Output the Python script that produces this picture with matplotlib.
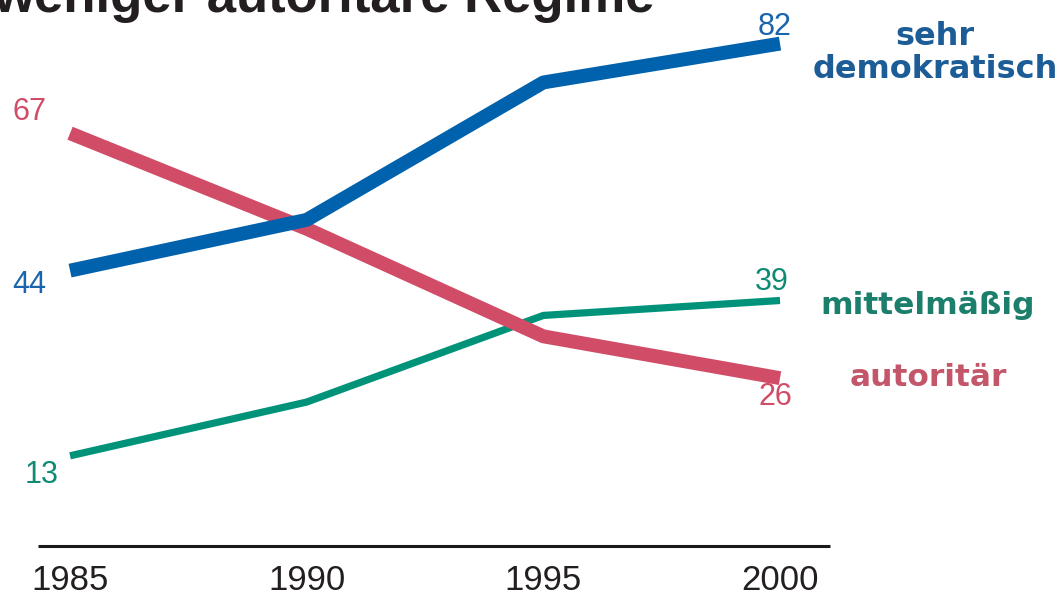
import matplotlib
matplotlib.use("Agg")
import matplotlib.pyplot as plt

# ---- data ----
years = [1985, 1990, 1995, 2000]
sehr_demokratisch = [44, 52.5, 75.5, 82]
autoritaer = [67, 51, 33, 26]
mittelmaessig = [13, 22, 36.5, 39]
tick_labels = ["1985", "1990", "1995", "2000"]
title = "weniger autoritäre Regime"

W, H = 1064, 598
fig = plt.figure(figsize=(W / 100, H / 100), dpi=100)
ax = fig.add_axes([0, 0, 1, 1])
ax.set_xlim(1983.52, 2006.0)
ax.set_ylim(-10.8, 89.3)
ax.axis("off")

blue, red, green = "#0061ad", "#d14d67", "#00937a"
blue_t, red_t, green_t = "#1d5d97", "#c4566a", "#1b7f6c"

ax.plot(years, mittelmaessig, color=green, lw=5.2, solid_capstyle="butt", solid_joinstyle="round", zorder=2)
ax.plot(years, autoritaer, color=red, lw=10, solid_capstyle="butt", solid_joinstyle="round", zorder=3)
ax.plot(years, sehr_demokratisch, color=blue, lw=10, solid_capstyle="butt", solid_joinstyle="round", zorder=4)

# baseline axis line
ax.plot([1984.32, 2001.06], [-2.06, -2.06], color="#1a1a1a", lw=2.2, solid_capstyle="butt")

num_font = ["Liberation Sans", "DejaVu Sans"]
for yr, lab in zip(years, tick_labels):
    ax.text(yr, -7.9, lab, ha="center", va="center", fontsize=25,
            family=num_font, color="#231f20")

# value labels
def vlabel(x, y, dx, dy, color):
    ax.annotate(f"{y:g}", xy=(x, y), xytext=(dx, dy), textcoords="offset pixels",
                ha="center", va="center", fontsize=22, family=num_font, color=color)

vlabel(years[0], autoritaer[0], -41, 21, red)
vlabel(years[0], sehr_demokratisch[0], -41, -14, "#1a64ad")
vlabel(years[0], mittelmaessig[0], -28, -19, "#0f8a73")
vlabel(years[-1], sehr_demokratisch[-1], -5, 17, "#1a64ad")
vlabel(years[-1], mittelmaessig[-1], -8, 18, "#0f8a73")
vlabel(years[-1], autoritaer[-1], -5, -19, red)

# series labels
def ftext(px, py, s, color, size=22.5, **kw):
    fig.text(px / W, 1 - py / H, s, ha="center", va="center", fontsize=size,
             fontweight="bold", family="DejaVu Sans", color=color, **kw)

ftext(935, 53, "sehr\ndemokratisch", blue_t, size=23, linespacing=1.05)
ftext(928, 305, "mittelmäßig", green_t)
ftext(928, 377, "autoritär", red_t)

# cut-off title
fig.text(655 / W, 1 - 12 / H, title, ha="right", va="baseline", fontsize=38,
         fontweight="bold", family="Liberation Sans", color="#231f20")

fig.savefig("out.png", dpi=100)
